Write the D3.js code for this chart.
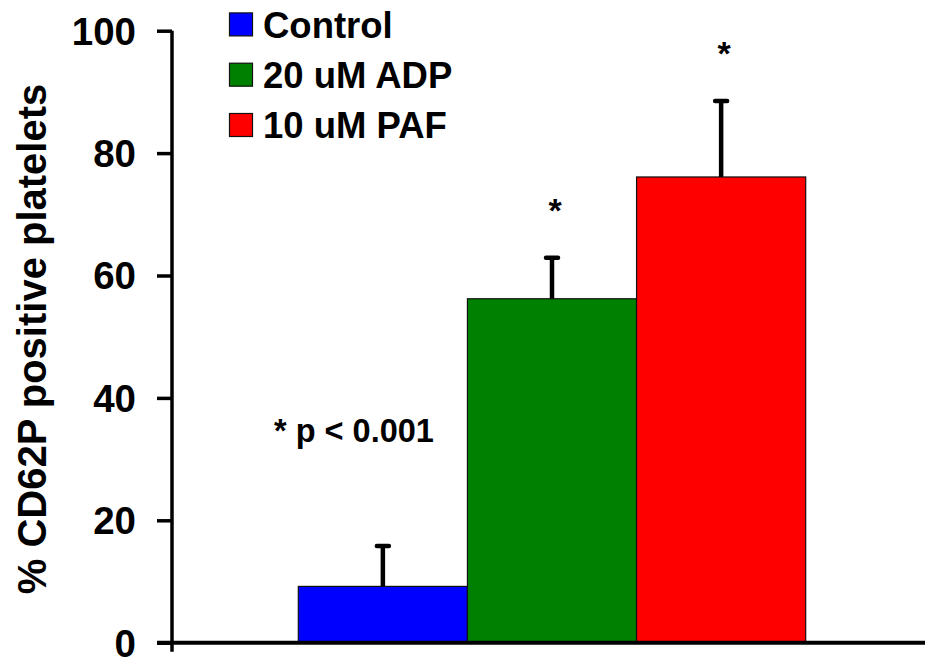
<!DOCTYPE html>
<html>
<head>
<meta charset="utf-8">
<script src="https://cdn.jsdelivr.net/npm/d3@7"></script>
<style>
  html, body { margin: 0; padding: 0; background: #fff; }
  svg { display: block; font-family: "Liberation Sans", Arial, sans-serif; font-weight: bold; }
</style>
</head>
<body>
<svg id="chart" width="925" height="661"></svg>
<script>
// Platelet activation: % CD62P positive platelets per treatment
const categories = ["Control", "20 uM ADP", "10 uM PAF"];
const means = [9.2, 56.2, 76.1];
const errors = [6.6, 6.7, 12.4];
const colors = ["#0000ff", "#008000", "#ff0000"];
const significant = [false, true, true];
const yTicks = [0, 20, 40, 60, 80, 100];

const svg = d3.select("#chart");
const W = 925;

const y = d3.scaleLinear().domain([0, 100]).range([642.7, 30.7]);
const x = d3.scaleBand().domain(categories).range([298.3, 805.7]).padding(0);
const axisX = 172;

// Y axis ticks and labels
const yAxis = d3.axisLeft(y).tickValues(yTicks).tickSize(15).tickSizeOuter(0).tickPadding(21);
const gy = svg.append("g").attr("transform", `translate(${axisX},0)`).call(yAxis);
gy.select(".domain").remove();
gy.selectAll(".tick line").attr("stroke", "#000").attr("stroke-width", 3.5);
gy.selectAll(".tick text")
  .attr("font-size", 38.5).attr("font-weight", "bold")
  .attr("font-family", "'Liberation Sans', Arial, sans-serif")
  .attr("fill", "#000").attr("dy", "0.35em");

// Bars
svg.append("g").selectAll("rect").data(categories).join("rect")
  .attr("x", d => x(d))
  .attr("y", (d, i) => y(means[i]))
  .attr("width", x.bandwidth())
  .attr("height", (d, i) => y(0) - y(means[i]))
  .attr("fill", (d, i) => colors[i])
  .attr("stroke", "#111").attr("stroke-width", 1.2);

// Error bars (upper half only)
const eb = svg.append("g").attr("stroke", "#000").attr("stroke-width", 4.5);
categories.forEach((c, i) => {
  const cx = x(c) + x.bandwidth() / 2;
  eb.append("line").attr("x1", cx).attr("x2", cx)
    .attr("y1", y(means[i])).attr("y2", y(means[i] + errors[i]));
  eb.append("line").attr("x1", cx - 6).attr("x2", cx + 6)
    .attr("y1", y(means[i] + errors[i])).attr("y2", y(means[i] + errors[i]))
    .attr("stroke-linecap", "round");
});

// Significance markers
categories.forEach((c, i) => {
  if (!significant[i]) return;
  svg.append("text")
    .attr("x", x(c) + x.bandwidth() / 2 + 3)
    .attr("y", y(means[i] + errors[i]) - 36)
    .attr("text-anchor", "middle")
    .attr("font-size", 34)
    .text("*");
});

svg.append("text")
  .attr("x", 354).attr("y", 442)
  .attr("text-anchor", "middle")
  .attr("font-size", 32.5)
  .text("* p < 0.001");

// Axis lines
svg.append("line").attr("x1", axisX).attr("x2", axisX)
  .attr("y1", y(100)).attr("y2", y(0) + 9)
  .attr("stroke", "#000").attr("stroke-width", 3.5);
svg.append("line").attr("x1", axisX - 15).attr("x2", W)
  .attr("y1", y(0)).attr("y2", y(0))
  .attr("stroke", "#000").attr("stroke-width", 4);

// Y axis title
svg.append("text")
  .attr("transform", "translate(46,339) rotate(-90)")
  .attr("text-anchor", "middle")
  .attr("font-size", 40)
  .text("% CD62P positive platelets");

// Legend
const lg = svg.append("g");
categories.forEach((c, i) => {
  const cy = 24.4 + i * 50.3;
  lg.append("rect").attr("x", 229.5).attr("y", cy - 11.5).attr("width", 23).attr("height", 23)
    .attr("fill", colors[i]).attr("stroke", "#111").attr("stroke-width", 1.2);
  lg.append("text").attr("x", 263).attr("y", cy).attr("dy", "0.36em")
    .attr("font-size", 36.5).text(c);
});
</script>
</body>
</html>
